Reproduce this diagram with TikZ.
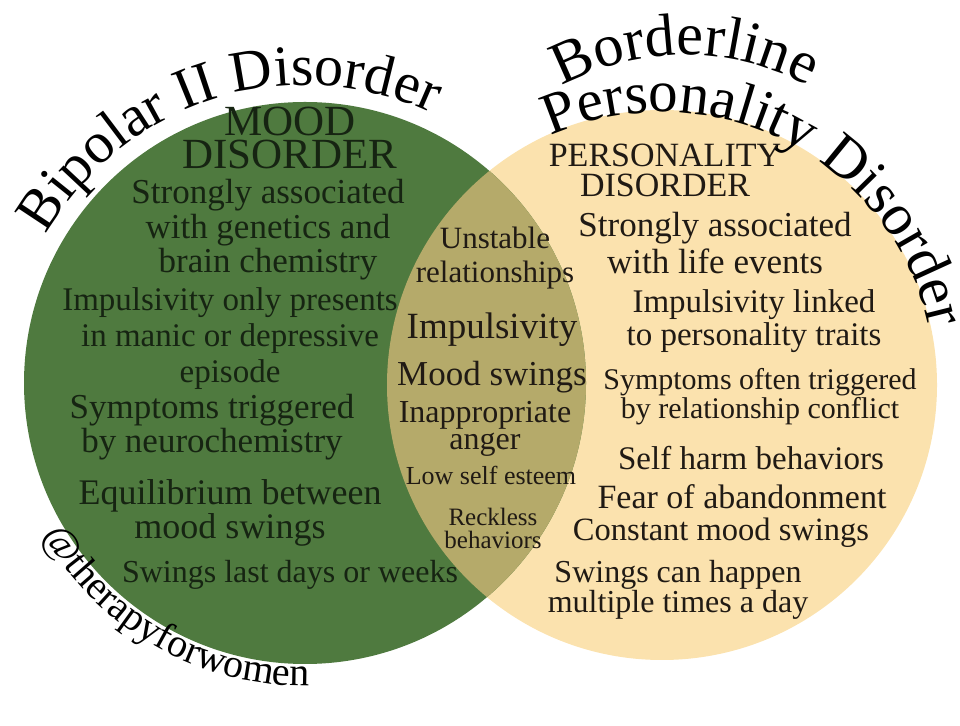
\documentclass[tikz,border=0pt]{standalone}
\usepackage{fontspec}
\setmainfont{Liberation Serif}
\usetikzlibrary{decorations.text,positioning}

\definecolor{moodgreen}{RGB}{79,122,63}
\definecolor{persbeige}{RGB}{251,226,174}
\definecolor{overlap}{RGB}{181,170,106}
\definecolor{darkink}{RGB}{22,36,18}
\definecolor{brownink}{RGB}{32,26,20}

\newcommand{\fs}[2]{\fontsize{#1}{#2}\selectfont}

\begin{document}
\begin{tikzpicture}[x=1pt, y=1pt,
    greentext/.style={align=center, text=darkink, inner sep=0pt},
    beigetext/.style={align=center, text=brownink, inner sep=0pt},
    lenstext/.style={align=center, text=brownink, inner sep=0pt},
    arctitle/.style={decorate, decoration={text along path, text align=center, text color=black}}
]
\useasboundingbox (0,0) rectangle (960,725);

% Circles
\coordinate (gc) at (305,342);
\coordinate (bc) at (662,340);
\fill[persbeige] (bc) circle[radius=275];
\fill[moodgreen] (gc) circle[radius=281];
\begin{scope}
  \clip (gc) circle[radius=281];
  \fill[overlap] (bc) circle[radius=275];
\end{scope}

% Curved titles
\coordinate (bordc) at (685,411);
\path[arctitle, decoration={text={|\fs{58}{58}|Bipolar II Disorder}}]
    (gc) ++(160:298) arc[start angle=160, end angle=55, radius=298];
\path[arctitle, decoration={text={|\fs{60}{60}|Borderline}}]
    (bordc) ++(135:259) arc[start angle=135, end angle=45, radius=259];
\path[arctitle, decoration={text={|\fs{59}{59}|Personality Disorder}}]
    (bc) ++(120:273) arc[start angle=120, end angle=6, radius=273];
\path[arctitle, decoration={text={|\fs{40}{40}|@therapyforwomen}}]
    (gc) ++(200:303) arc[start angle=200, end angle=281, radius=303];

% Bipolar II side
\node[greentext, font=\fs{43}{33}] (moodhead) at (290,587) {MOOD\\DISORDER};
\node[greentext, font=\fs{35}{34.5}] (genetics) at (268,495) {Strongly associated\\with genetics and\\brain chemistry};
\node[greentext, font=\fs{33}{36}] (impulse) at (230,386) {Impulsivity only presents\\in manic or depressive\\episode};
\node[greentext, font=\fs{35}{34}] (neuro) at (212,298) {Symptoms triggered\\by neurochemistry};
\node[greentext, font=\fs{36}{34}] (equil) at (230,212) {Equilibrium between\\mood swings};
\node[greentext, font=\fs{32}{32}] (weeks) at (290,150) {Swings last days or weeks};

% Shared traits
\node[lenstext, font=\fs{31}{34}] (unstable) at (495,467) {Unstable\\relationships};
\node[lenstext, font=\fs{37}{37}] (impshared) at (492,395) {Impulsivity};
\node[lenstext, font=\fs{35}{35}] (moodsw) at (492,348) {Mood swings};
\node[lenstext, font=\fs{32}{27}] (anger) at (485,296) {Inappropriate\\anger};
\node[lenstext, font=\fs{26}{26}] (esteem) at (491,250) {Low self esteem};
\node[lenstext, font=\fs{25}{23}] (reckless) at (493,197) {Reckless\\behaviors};

% Borderline side
\node[beigetext, font=\fs{34}{30}] (pershead) at (665,555) {PERSONALITY\\DISORDER};
\node[beigetext, font=\fs{35}{37}] (life) at (715,482) {Strongly associated\\with life events};
\node[beigetext, font=\fs{33}{33}] (traits) at (754,404) {Impulsivity linked\\to personality traits};
\node[beigetext, font=\fs{30}{29}] (conflict) at (760,328) {Symptoms often triggered\\by relationship conflict};
\node[beigetext, font=\fs{33}{33}] (harm) at (751,267) {Self harm behaviors};
\node[beigetext, font=\fs{34}{34}] (fear) at (742,228) {Fear of abandonment};
\node[beigetext, font=\fs{32.5}{32}] (constant) at (721,192) {Constant mood swings};
\node[beigetext, font=\fs{32}{27}] (daily) at (678,135) {Swings can happen\\multiple times a day};

\end{tikzpicture}
\end{document}
